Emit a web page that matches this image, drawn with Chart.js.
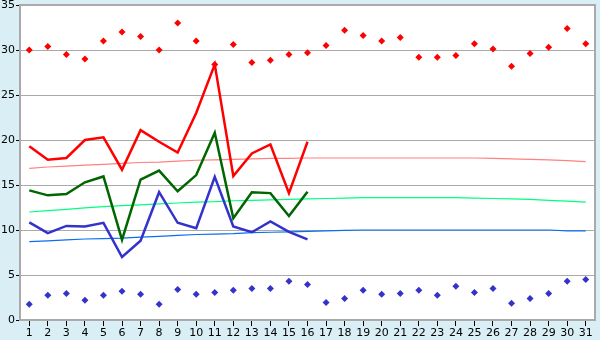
<!DOCTYPE html>
<html>
<head>
<meta charset="utf-8">
<script src="https://cdn.jsdelivr.net/npm/chart.js@4"></script>
<style>
html,body{margin:0;padding:0;background:#d9eef5;}
#wrap{width:600px;height:340px;}
</style>
</head>
<body>
<div id="wrap"><canvas id="c" width="600" height="340"></canvas></div>
<script>
const days = ["1","2","3","4","5","6","7","8","9","10","11","12","13","14","15","16","17","18","19","20","21","22","23","24","25","26","27","28","29","30","31"];
const yTicks = [0,5,10,15,20,25,30,35];

const maxLine = [19.3,17.8,18.0,20.0,20.3,16.7,21.1,19.8,18.6,23.0,28.4,16.0,18.5,19.5,14.1,19.8,null,null,null,null,null,null,null,null,null,null,null,null,null,null,null];
const meanLine = [14.4,13.85,14.0,15.3,15.95,8.9,15.6,16.6,14.3,16.1,20.8,11.3,14.2,14.1,11.55,14.25,null,null,null,null,null,null,null,null,null,null,null,null,null,null,null];
const minLine = [10.85,9.65,10.45,10.4,10.8,7.0,8.8,14.2,10.8,10.2,15.9,10.4,9.75,10.95,9.8,8.95,null,null,null,null,null,null,null,null,null,null,null,null,null,null,null];

const recordMax = [30.0,30.4,29.5,29.0,31.0,32.0,31.5,30.0,33.0,31.0,28.4,30.6,28.6,28.85,29.5,29.7,30.5,32.2,31.6,31.0,31.4,29.2,29.2,29.4,30.7,30.1,28.2,29.6,30.3,32.4,30.7];
const recordMin = [1.75,2.75,2.95,2.2,2.75,3.2,2.85,1.75,3.4,2.85,3.05,3.3,3.5,3.5,4.3,3.95,1.95,2.4,3.3,2.85,2.95,3.3,2.75,3.75,3.05,3.5,1.85,2.4,2.95,4.3,4.5];

const normMax = [16.85,17.0,17.1,17.2,17.3,17.4,17.5,17.55,17.65,17.75,17.8,17.85,17.9,17.95,17.95,18.0,18.0,18.0,18.0,18.0,18.0,18.0,18.0,18.0,18.0,17.95,17.9,17.85,17.8,17.7,17.6];
const normMean = [12.0,12.15,12.3,12.45,12.6,12.7,12.8,12.9,13.0,13.1,13.15,13.25,13.3,13.35,13.4,13.45,13.5,13.55,13.6,13.6,13.6,13.6,13.6,13.6,13.55,13.5,13.45,13.4,13.3,13.2,13.1];
const normMin = [8.7,8.8,8.9,9.0,9.05,9.1,9.2,9.3,9.4,9.5,9.55,9.6,9.7,9.75,9.8,9.85,9.9,9.95,10.0,10.0,10.0,10.0,10.0,10.0,10.0,10.0,10.0,10.0,10.0,9.9,9.9];

const bgPlugin = {
  id: 'bg',
  beforeDraw(chart) {
    const ctx = chart.ctx, a = chart.chartArea;
    ctx.save();
    ctx.fillStyle = '#d9eef5';
    ctx.fillRect(0, 0, chart.width, chart.height);
    ctx.fillStyle = '#ffffff';
    ctx.fillRect(a.left, a.top, a.right - a.left, a.bottom - a.top);
    ctx.restore();
  },
  afterDatasetsDraw(chart) {
    const ctx = chart.ctx, a = chart.chartArea;
    ctx.save();
    ctx.strokeStyle = '#aaaaaa';
    ctx.lineWidth = 2;
    ctx.beginPath();
    ctx.moveTo(a.left, a.top);
    ctx.lineTo(a.right, a.top);
    ctx.lineTo(a.right, a.bottom);
    ctx.stroke();
    ctx.restore();
  }
};

function lineDs(label, data, color, width) {
  return { label, data, borderColor: color, backgroundColor: color, borderWidth: width,
           pointRadius: 0, pointHoverRadius: 0, tension: 0, fill: false, spanGaps: false };
}
function ptDs(label, data, color) {
  return { label, data, borderColor: color, backgroundColor: color, showLine: false,
           pointStyle: 'rectRot', pointRadius: 3.5, pointBorderWidth: 0, pointHoverRadius: 3.5 };
}

new Chart(document.getElementById('c'), {
  type: 'line',
  data: {
    labels: days,
    datasets: [
      lineDs('Max', maxLine, '#ff0000', 2.5),
      lineDs('Mean', meanLine, '#006600', 2.5),
      lineDs('Min', minLine, '#3333cc', 2.5),
      ptDs('Record max', recordMax, '#ff0000'),
      ptDs('Record min', recordMin, '#3333cc'),
      lineDs('Normal max', normMax, '#ff8080', 1.2),
      lineDs('Normal mean', normMean, '#00ff80', 1.2),
      lineDs('Normal min', normMin, '#0a6ef0', 1.2)
    ]
  },
  options: {
    responsive: false,
    animation: false,
    devicePixelRatio: 1,
    layout: { padding: { top: 5, right: 5, left: 0, bottom: 0 } },
    plugins: { legend: { display: false }, tooltip: { enabled: false } },
    scales: {
      x: {
        type: 'category',
        offset: true,
        afterFit(s) { s.height = 20; s.paddingLeft = 0; s.paddingRight = 0; },
        grid: { drawOnChartArea: false, drawTicks: true, tickLength: 6, color: '#000000', offset: false },
        border: { display: true, color: '#aaaaaa', width: 2 },
        ticks: { autoSkip: false, maxRotation: 0, padding: 1, color: '#000000',
                 font: { family: 'DejaVu Sans', size: 11 } }
      },
      y: {
        min: 0, max: 35,
        afterFit(s) { s.width = 20; s.paddingTop = 0; s.paddingBottom = 0; },
        afterBuildTicks(s) { s.ticks = yTicks.map(v => ({ value: v })); },
        grid: { color: '#aaaaaa', lineWidth: 1, tickLength: 4, drawTicks: true, tickColor: '#000000' },
        border: { display: true, color: '#aaaaaa', width: 2 },
        ticks: { padding: 1, color: '#000000', font: { family: 'DejaVu Sans', size: 11 } }
      }
    }
  },
  plugins: [bgPlugin]
});
</script>
</body>
</html>
